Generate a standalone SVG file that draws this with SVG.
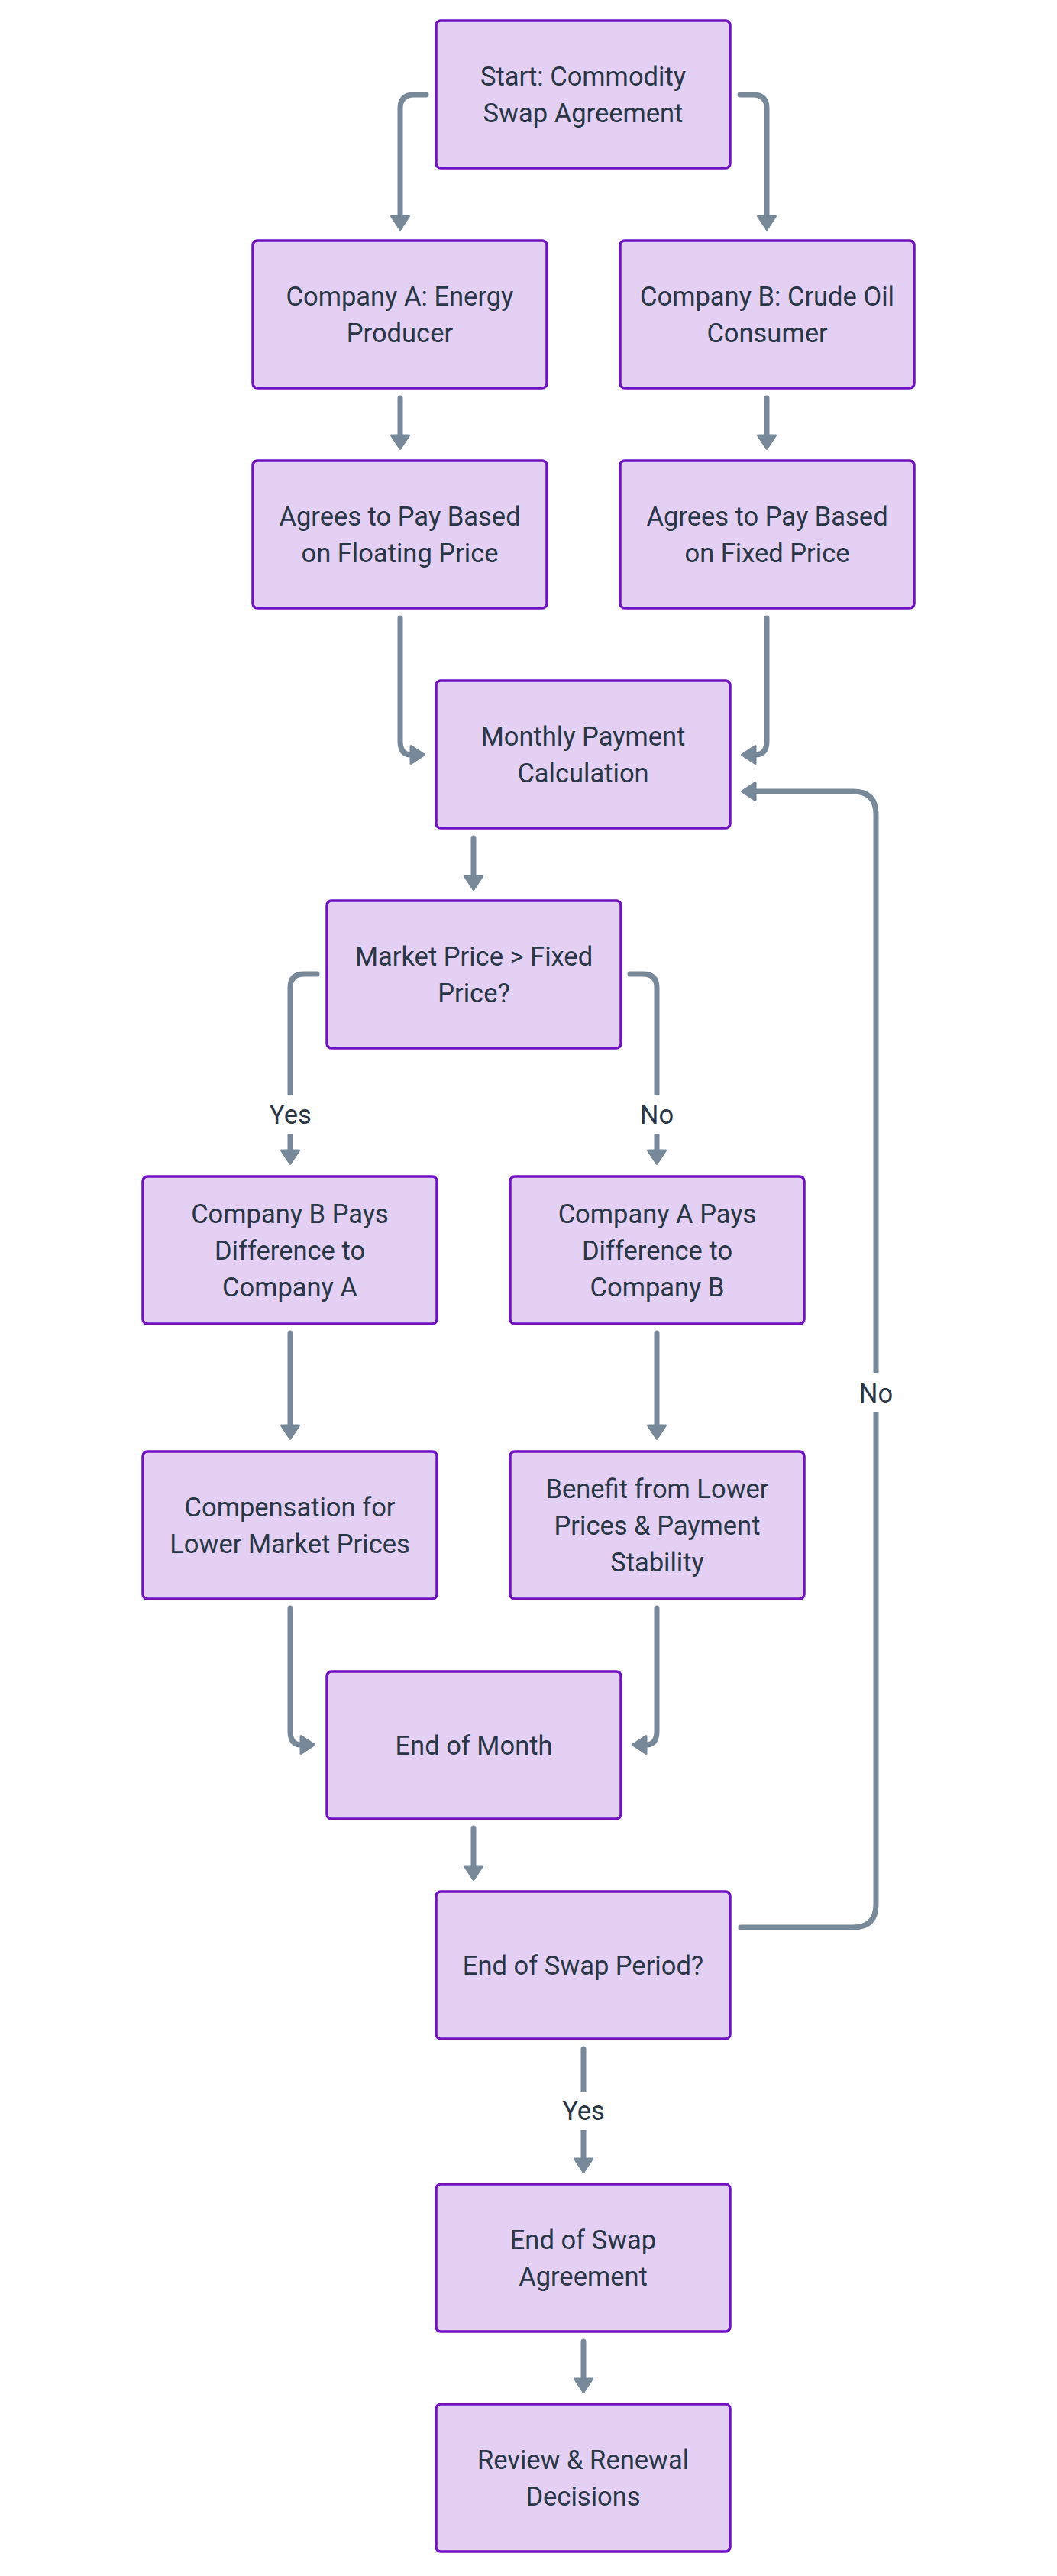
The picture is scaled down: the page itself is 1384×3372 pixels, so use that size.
<svg xmlns="http://www.w3.org/2000/svg" width="1384" height="3372" viewBox="0 0 1384 3372">
<style>
  .node rect { fill: #e3d0f3; stroke: #7012c4; stroke-width: 3.5; }
  text { font-family: Roboto, "Liberation Sans", sans-serif; font-size: 34.5px; fill: #283646; text-anchor: middle; }
  .edge { fill: none; stroke: #778899; stroke-width: 7; stroke-linecap: round; stroke-linejoin: round; marker-end: url(#ah); }
  .lbg { fill: #ffffff; }
</style>
<defs>
  <marker id="ah" markerUnits="userSpaceOnUse" markerWidth="24" markerHeight="30" viewBox="-2 -15 24 30" refX="0" refY="0" orient="auto" overflow="visible">
    <path d="M0,-11.5 L17.5,0 L0,11.5 Z" fill="#778899" stroke="#778899" stroke-width="3" stroke-linejoin="round"/>
  </marker>
</defs>
<rect x="0" y="0" width="1384" height="3372" fill="#ffffff"/>

<g id="connectors">
  <path class="edge" d="M558,124 L542,124 Q524,124 524,142 L524,283"/>
  <path class="edge" d="M969,124 L986,124 Q1004,124 1004,142 L1004,283"/>
  <path class="edge" d="M524,521 L524,570"/>
  <path class="edge" d="M1004,521 L1004,570"/>
  <path class="edge" d="M524,809 L524,970 Q524,988 538,988"/>
  <path class="edge" d="M1004,809 L1004,970 Q1004,988 989,988"/>
  <path class="edge" d="M620,1097 L620,1147"/>
  <path class="edge" d="M415,1275 L398,1275 Q380,1275 380,1293 L380,1506"/>
  <path class="edge" d="M825,1275 L842,1275 Q860,1275 860,1293 L860,1506"/>
  <path class="edge" d="M380,1745 L380,1866"/>
  <path class="edge" d="M860,1745 L860,1866"/>
  <path class="edge" d="M380,2105 L380,2266 Q380,2284 394,2284"/>
  <path class="edge" d="M860,2105 L860,2266 Q860,2284 846,2284"/>
  <path class="edge" d="M620,2393 L620,2443"/>
  <path class="edge" d="M970,2523 L1117,2523 Q1147,2523 1147,2493 L1147,1066 Q1147,1036 1117,1036 L989,1036"/>
  <path class="edge" d="M764,2682 L764,2826"/>
  <path class="edge" d="M764,3065 L764,3114"/>
</g>

<g id="edge-labels">
  <g id="label-yes-1"><rect class="lbg" x="348" y="1434" width="64" height="50"/><text x="380" y="1471">Yes</text></g>
  <g id="label-no-1"><rect class="lbg" x="834" y="1434" width="52" height="50"/><text x="860" y="1471">No</text></g>
  <g id="label-no-2"><rect class="lbg" x="1121" y="1797" width="52" height="51"/><text x="1147" y="1836">No</text></g>
  <g id="label-yes-2"><rect class="lbg" x="732" y="2738" width="64" height="50"/><text x="764" y="2775">Yes</text></g>
</g>

<g id="n1" class="node"><rect x="571" y="27" width="385" height="193" rx="6"/><text x="763.5"><tspan x="763.5" y="112">Start: Commodity</tspan><tspan x="763.5" y="160">Swap Agreement</tspan></text></g>
<g id="n2" class="node"><rect x="331" y="315" width="385" height="193" rx="6"/><text x="523.5"><tspan x="523.5" y="400">Company A: Energy</tspan><tspan x="523.5" y="448">Producer</tspan></text></g>
<g id="n3" class="node"><rect x="812" y="315" width="385" height="193" rx="6"/><text x="1004.5"><tspan x="1004.5" y="400">Company B: Crude Oil</tspan><tspan x="1004.5" y="448">Consumer</tspan></text></g>
<g id="n4" class="node"><rect x="331" y="603" width="385" height="193" rx="6"/><text x="523.5"><tspan x="523.5" y="688">Agrees to Pay Based</tspan><tspan x="523.5" y="736">on Floating Price</tspan></text></g>
<g id="n5" class="node"><rect x="812" y="603" width="385" height="193" rx="6"/><text x="1004.5"><tspan x="1004.5" y="688">Agrees to Pay Based</tspan><tspan x="1004.5" y="736">on Fixed Price</tspan></text></g>
<g id="n6" class="node"><rect x="571" y="891" width="385" height="193" rx="6"/><text x="763.5"><tspan x="763.5" y="976">Monthly Payment</tspan><tspan x="763.5" y="1024">Calculation</tspan></text></g>
<g id="n7" class="node"><rect x="428" y="1179" width="385" height="193" rx="6"/><text x="620.5"><tspan x="620.5" y="1264">Market Price &gt; Fixed</tspan><tspan x="620.5" y="1312">Price?</tspan></text></g>
<g id="n8" class="node"><rect x="187" y="1540" width="385" height="193" rx="6"/><text x="379.5"><tspan x="379.5" y="1601">Company B Pays</tspan><tspan x="379.5" y="1649">Difference to</tspan><tspan x="379.5" y="1697">Company A</tspan></text></g>
<g id="n9" class="node"><rect x="668" y="1540" width="385" height="193" rx="6"/><text x="860.5"><tspan x="860.5" y="1601">Company A Pays</tspan><tspan x="860.5" y="1649">Difference to</tspan><tspan x="860.5" y="1697">Company B</tspan></text></g>
<g id="n10" class="node"><rect x="187" y="1900" width="385" height="193" rx="6"/><text x="379.5"><tspan x="379.5" y="1985">Compensation for</tspan><tspan x="379.5" y="2033">Lower Market Prices</tspan></text></g>
<g id="n11" class="node"><rect x="668" y="1900" width="385" height="193" rx="6"/><text x="860.5"><tspan x="860.5" y="1961">Benefit from Lower</tspan><tspan x="860.5" y="2009">Prices &amp; Payment</tspan><tspan x="860.5" y="2057">Stability</tspan></text></g>
<g id="n12" class="node"><rect x="428" y="2188" width="385" height="193" rx="6"/><text x="620.5" y="2297">End of Month</text></g>
<g id="n13" class="node"><rect x="571" y="2476" width="385" height="193" rx="6"/><text x="763.5" y="2585">End of Swap Period?</text></g>
<g id="n14" class="node"><rect x="571" y="2859" width="385" height="193" rx="6"/><text x="763.5"><tspan x="763.5" y="2944">End of Swap</tspan><tspan x="763.5" y="2992">Agreement</tspan></text></g>
<g id="n15" class="node"><rect x="571" y="3147" width="385" height="193" rx="6"/><text x="763.5"><tspan x="763.5" y="3232">Review &amp; Renewal</tspan><tspan x="763.5" y="3280">Decisions</tspan></text></g>
</svg>
